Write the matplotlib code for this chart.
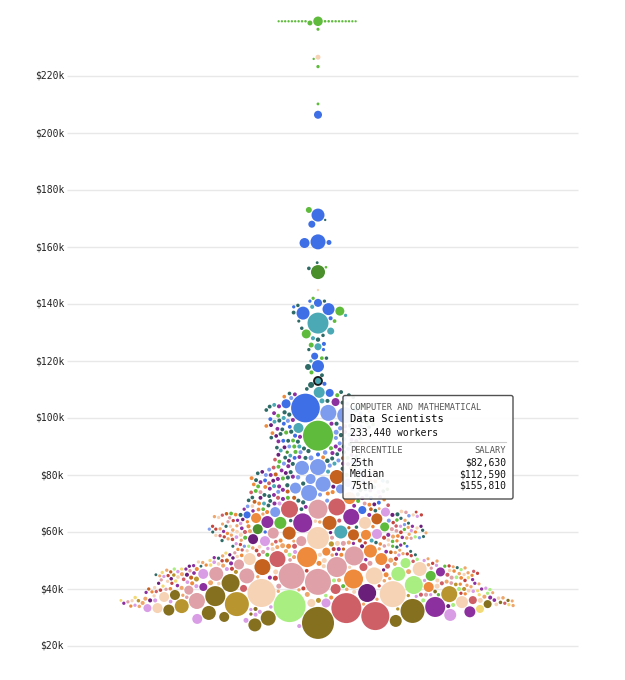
import numpy as np
import matplotlib
matplotlib.use("Agg")
import matplotlib.pyplot as plt
from matplotlib.patches import FancyBboxPatch

# (median salary $k, workers in thousands) for each occupation, one list per group
health_pract = [
    (239.2, 20), (239.2, 22), (239.2, 18), (239.2, 20), (239.2, 24), (239.2, 20), (239.2, 19),
    (239.2, 22), (239.2, 20), (239.2, 25), (239.2, 20), (239.2, 18), (239.2, 21), (239.2, 20),
    (239.2, 23), (239.2, 20), (239.2, 19), (239.2, 22), (239.2, 20), (239.2, 330),
    (238.6, 90), (236.4, 35), (226.0, 20), (223.3, 40), (210.2, 30), (173.0, 130), (152.9, 25),
    (137.5, 295), (129.5, 295), (125.6, 90), (93.8, 3280), (63.2, 525), (61.8, 295), (44.6, 365),
    (142, 40), (134, 50), (121, 50), (116, 60), (108, 60), (104, 55), (99, 60), (96, 55),
    (90, 60), (86, 55), (80, 60), (76, 55), (72, 60), (68, 50), (58, 60), (55, 40), (52, 60),
    (48, 40), (41, 60), (38, 40), (100.8, 55), (97.7, 50), (94.9, 60), (92.1, 55), (88.1, 60),
    (84.7, 55), (78.8, 60), (74.4, 55), (70.9, 60), (66.5, 50), (64.2, 45), (60.9, 40), (56.7, 45),
    (98.3, 55), (89.4, 60), (82.9, 55), (77.4, 60),
]

management = [
    (206.4, 235), (171.2, 615), (168.0, 180), (161.8, 820), (161.6, 90), (161.4, 365),
    (140.4, 235), (138.2, 525), (136.8, 615), (121.7, 180), (118.2, 525), (108.8, 235),
    (105.0, 295), (103.5, 3000), (67.7, 235), (66.0, 180), (141, 40), (139, 40), (135, 60),
    (126, 60), (124, 40), (112, 60), (107, 60), (98, 55), (92, 55), (86, 55), (80, 60), (72, 55),
    (60, 40), (55, 30), (101.6, 55), (96.9, 55), (93.8, 60), (89.9, 55), (84.4, 60), (78.1, 55),
    (75.3, 60), (70.3, 55), (99.6, 55), (87.2, 60), (81.7, 55),
]

computer = [
    (133.3, 1600), (130.5, 180), (125.0, 180), (113.0, 233.44), (109.0, 440), (103.2, 160),
    (96.5, 365), (60.0, 615), (139, 60), (136, 40), (128, 60), (120, 40), (106, 90), (100, 60),
    (95, 55), (90, 60), (84, 60), (78, 55), (70, 55), (57, 60), (104.6, 55), (98.7, 55),
    (92.6, 60), (86.8, 55), (81.2, 60), (94.1, 60), (88.6, 55), (76.1, 60),
]

engineering = [
    (169.5, 20), (154.5, 30), (152.5, 50), (141, 40), (139.5, 45), (137, 55), (134, 35),
    (131.5, 45), (129, 45), (127.5, 70), (124, 40), (121, 45), (117.9, 130), (115, 55),
    (111.6, 130), (110.2, 50), (108, 55), (106, 60), (104, 55), (102, 65), (99.5, 55), (98, 60),
    (96, 55), (94, 65), (92, 55), (90, 60), (88, 55), (86, 60), (85, 75), (83, 55), (81, 60),
    (79, 55), (77, 65), (75, 60), (73, 55), (71, 60), (68, 55), (66, 60), (64, 45), (62, 40),
    (60, 35), (57, 40), (55, 35), (52, 35), (48, 30), (45, 30), (109.1, 55), (107.3, 50),
    (105.4, 60), (103.6, 55), (102.8, 50), (101.2, 65), (100.4, 55), (108.6, 50), (99.1, 60),
    (97.3, 55), (96.8, 50), (95.2, 65), (94.4, 55), (93.1, 50), (91.7, 60), (90.8, 55),
    (89.6, 50), (88.4, 65), (87.3, 55), (86.6, 50), (85.8, 60), (84.1, 55), (83.4, 50),
    (82.2, 65), (81.5, 55), (80.3, 50), (79.1, 60), (78.2, 55), (77.6, 50), (76.4, 65),
    (75.7, 55), (74.3, 50), (73.2, 60), (72.6, 55), (71.1, 50), (70.4, 65), (69.3, 55),
    (67.5, 50), (66.2, 60), (64.8, 40), (63.1, 35), (61.7, 45), (60.6, 40), (58.4, 35),
    (56.3, 45), (54.7, 40), (53.2, 35), (50.8, 40), (47.5, 35), (98.9, 55), (95.6, 60),
    (92.9, 50), (89.3, 60), (86.1, 55), (83.9, 60), (80.6, 50), (78.7, 60), (76.9, 55),
    (74.7, 60), (72.1, 50), (70.9, 55),
]

legal = [(151.2, 715), (61.0, 365), (88, 40), (75, 45), (56, 30)]

business = [
    (101.0, 935), (101.8, 935), (82.8, 935), (82.5, 715), (76.8, 820), (73.7, 935), (75.4, 440),
    (78.6, 365), (77.2, 235), (75.1, 295), (67.0, 365), (105, 55), (99, 60), (97, 55), (93, 60),
    (90, 55), (88, 60), (86, 90), (84, 60), (80, 55), (71, 60), (69, 50), (64, 60), (61, 40),
    (58, 40), (55, 40), (107, 60), (95, 90), (89.2, 55), (87.4, 50), (85.1, 60), (81.9, 55),
    (79.8, 60), (77.9, 55), (74.1, 60), (72.8, 55), (65.7, 45), (62.6, 40), (96.4, 70),
    (91.1, 60), (87.9, 75), (83.3, 65), (79.2, 70), (73.1, 60),
]

health_support = [
    (34.0, 3730), (41.4, 1180), (45.3, 715), (49.1, 365), (34.4, 60), (36, 60), (38.5, 40),
    (43, 60), (47, 40), (52, 60), (55, 40), (40, 60), (58.3, 40), (50.4, 45), (46.8, 40),
    (44.1, 50), (39.8, 40), (37.7, 45),
]

education = [
    (105.6, 235), (65.3, 935), (63.2, 1315), (63.5, 525), (33.7, 1460), (46.0, 295), (32.0, 440),
    (40.7, 235), (98, 60), (94, 55), (90, 60), (87, 55), (84, 60), (80, 55), (76, 60), (73, 55),
    (70, 60), (68, 40), (66, 60), (62, 40), (59, 60), (56, 40), (54, 60), (51, 40), (49, 60),
    (47, 40), (44, 60), (42, 40), (40, 40), (37, 60), (35, 40), (108.3, 55), (104.1, 60),
    (101.7, 55), (99.3, 60), (96.2, 55), (93.4, 60), (91.8, 55), (88.9, 60), (86.3, 55),
    (83.1, 60), (81.6, 55), (79.4, 60), (77.5, 55), (74.8, 60), (72.3, 55), (71.6, 60),
    (69.2, 55), (67.4, 45), (64.1, 40), (61.3, 50), (60.2, 40), (58.1, 45), (55.4, 40),
    (53.1, 50), (52.2, 40), (50.3, 45), (48.2, 40), (45.6, 50), (43.3, 40), (41.2, 45),
    (38.8, 40), (36.1, 50), (97.1, 60), (92.4, 55), (87.7, 60), (84.9, 55), (78.6, 60),
    (75.2, 55), (71.9, 60), (68.8, 55),
]

arts_media = [
    (57.5, 365), (38.6, 1180), (100, 55), (92, 55), (85, 55), (78, 55), (72, 55), (66, 60),
    (62, 40), (55, 60), (52, 40), (48, 40), (45, 60), (42, 40), (36, 60), (34, 60), (97.5, 55),
    (95.1, 60), (89.7, 55), (83.8, 60), (80.7, 55), (75.9, 60), (69.7, 55), (64.4, 45),
    (59.8, 40), (50.9, 45), (46.7, 40), (43.6, 45), (93.7, 50), (87.1, 55), (81.1, 50), (74.6, 55),
]

protective = [
    (79.3, 715), (63.2, 715), (59.6, 615), (64.6, 440), (59.0, 440), (47.7, 935), (72, 60),
    (68, 50), (57, 60), (54, 40), (50, 60), (46, 40), (44, 60), (40, 40), (85.9, 55), (82.4, 60),
    (76.6, 55), (74.2, 60), (70.6, 55), (66.4, 45), (61.5, 40), (52.9, 50), (88.7, 55),
    (80.2, 60), (77.8, 55),
]

food = [
    (28.1, 3730), (32.3, 2100), (37.5, 1460), (42.1, 1180), (28.8, 525), (27.4, 615), (31.6, 715),
    (29.8, 820), (37.9, 365), (32.6, 440), (30.2, 365), (34.7, 235), (33, 60), (36, 40),
    (39.1, 50), (35.3, 45), (31.2, 40),
]

grounds = [
    (34.7, 2100), (38.2, 935), (34.0, 715), (55.8, 100), (36, 90), (40, 60), (43.5, 90), (46, 60),
    (33, 40), (44.9, 45), (41.6, 50), (37.7, 40), (35.9, 45),
]

personal_care = [
    (56.8, 365), (59.3, 365), (67.0, 295), (45.3, 365), (30.9, 525), (29.5, 365), (33.3, 235),
    (35.1, 295), (27, 60), (29, 90), (31, 60), (32, 60), (36, 60), (38, 40), (41, 60), (43, 40),
    (47, 60), (50, 40), (53, 60), (62, 40), (70, 60), (74, 55), (65.5, 40), (63.0, 45),
    (60.5, 40), (58.2, 50), (55.9, 40), (54.2, 45), (51.9, 40), (49.4, 50), (48.3, 40),
    (46.1, 45), (44.4, 40), (42.4, 50), (40.3, 40), (39.2, 45), (37.4, 40), (35.6, 50),
    (34.3, 40), (33.7, 45), (32.8, 40),
]

sales = [
    (68.0, 1315), (51.6, 1315), (47.7, 1460), (44.6, 2460), (42.5, 2460), (35.8, 935),
    (44.6, 820), (45.3, 715), (59.6, 440), (56.8, 365), (48.6, 365), (39.6, 295), (38, 60),
    (41, 90), (44, 60), (49, 90), (53, 60), (56, 90), (58, 60), (61, 60), (65, 40), (70, 55),
    (74, 55), (66.9, 45), (63.6, 40), (60.4, 50), (57.8, 40), (55.1, 45), (52.7, 40), (50.2, 50),
    (47.3, 40), (46.4, 45), (43.2, 40), (42.1, 50), (39.9, 40), (37.1, 45), (35.5, 40),
]

office = [
    (57.9, 1760), (63.2, 525), (38.2, 2460), (38.6, 2860), (47.0, 715), (35.4, 525), (37.2, 365),
    (44.6, 1050), (50.5, 525), (33.3, 365), (35.1, 235), (36, 90), (39, 60), (41, 90), (43, 60),
    (46, 90), (48, 60), (50, 90), (52, 60), (54, 60), (56, 90), (59, 60), (62, 40), (66, 40),
    (226.6, 90), (144.9, 20), (76.2, 55), (72.7, 55), (69.1, 50), (67.2, 50), (65.1, 40),
    (63.8, 45), (61.4, 40), (60.1, 50), (58.8, 40), (57.2, 45), (55.5, 40), (54.8, 50),
    (53.4, 40), (51.4, 45), (49.5, 40), (48.8, 50), (47.6, 40), (46.5, 45), (45.1, 40),
    (44.2, 50), (42.7, 40), (41.9, 45), (40.5, 40), (39.4, 50), (37.6, 40), (36.8, 45),
    (35.9, 40), (34.6, 50),
]

farming = [
    (33.0, 235), (38, 40), (41, 40), (44, 40), (47, 40), (50, 40), (36, 30), (52.6, 40),
    (48.4, 45), (45.8, 40), (42.8, 45), (39.4, 40), (37.0, 45), (34.5, 40),
]

construction = [
    (71.9, 525), (53.3, 615), (51.2, 1460), (43.5, 1315), (64.9, 365), (50.5, 525), (40.7, 365),
    (59.0, 365), (53.1, 235), (78, 55), (74, 60), (70, 55), (67, 60), (62, 60), (60, 40), (57, 60),
    (55, 90), (52, 60), (49, 90), (47, 60), (45, 90), (42, 60), (39, 40), (37, 60), (34, 40),
    (107.5, 50), (102.3, 45), (97.2, 50), (91.3, 45), (78.9, 55), (76.7, 50), (73.5, 60),
    (71.4, 50), (69.6, 55), (67.9, 50), (66.1, 50), (63.6, 40), (61.9, 45), (59.5, 40),
    (58.6, 50), (56.9, 40), (55.8, 45), (53.9, 40), (51.8, 50), (48.4, 40), (46.3, 45),
    (44.8, 40), (43.9, 50), (41.7, 40), (40.1, 45), (38.3, 40), (94.7, 50), (86.2, 55),
    (81.4, 50), (75.8, 55),
]

repair = [
    (68.0, 1050), (68.8, 1050), (50.5, 935), (33.3, 3280), (30.5, 2860), (40.0, 365), (47.7, 235),
    (40.2, 180), (36.1, 235), (72, 60), (64, 60), (60, 60), (55, 90), (52, 60), (48, 90), (45, 60),
    (42, 60), (38, 60), (35, 40), (82.6, 55), (77.1, 55), (73.9, 50), (69.4, 50), (65.9, 40),
    (62.1, 45), (58.7, 40), (56.6, 50), (53.7, 40), (49.7, 45), (46.2, 40), (43.4, 50), (39.1, 40),
    (85.4, 50), (79.6, 55),
]

production = [
    (34.2, 40), (35.1, 60), (36.4, 40), (37.3, 60), (38.1, 90), (39.2, 40), (40.4, 60), (41.3, 40),
    (42.2, 90), (43.1, 60), (44.3, 40), (45.2, 60), (46.1, 90), (47.4, 40), (48.2, 60), (49.3, 40),
    (50.1, 90), (51.2, 60), (52.4, 40), (53.3, 60), (54.1, 40), (55.2, 90), (56.3, 60), (57.1, 40),
    (58.4, 60), (59.2, 40), (60.3, 60), (61.1, 40), (62.2, 40), (64.1, 40), (66.3, 40), (68.2, 30),
    (36.6, 60), (39.7, 40), (42.6, 60), (45.7, 40), (48.8, 60), (51.6, 40), (54.7, 60), (57.6, 40),
    (65.4, 40), (63.5, 45), (62.8, 35), (61.6, 40), (60.7, 45), (59.7, 35), (58.9, 40), (57.9, 45),
    (56.8, 35), (55.7, 40), (54.4, 45), (53.6, 35), (52.8, 40), (51.9, 45), (50.6, 35), (49.8, 40),
    (48.5, 45), (47.8, 35), (46.6, 40), (45.4, 45), (44.6, 35), (43.7, 40), (42.9, 45), (41.8, 35),
    (40.8, 40), (39.9, 45), (38.7, 35), (37.8, 40), (36.9, 45), (35.8, 35), (34.7, 40), (33.9, 45),
]

transport = [
    (38.5, 40), (40.2, 60), (42.0, 40), (43.8, 90), (45.5, 40), (47.1, 60), (49.0, 40), (50.6, 60),
    (52.3, 40), (54.0, 60), (56.2, 40), (58.0, 60), (61.0, 40), (64.0, 40), (67.0, 30), (66.0, 40),
    (63.3, 45), (62.0, 40), (59.9, 50), (58.3, 40), (57.4, 45), (55.6, 40), (53.5, 50), (51.7, 40),
    (49.9, 45), (48.1, 40), (46.4, 50), (44.7, 40), (43.0, 45), (41.1, 40), (39.6, 45),
]

groups = [
    (health_pract, "#5fbb3c"), (management, "#3f6fe6"), (computer, "#4aa9b4"),
    (engineering, "#2e6b67"), (legal, "#4a8f2c"), (business, "#7e9cee"),
    (health_support, "#a8ee80"), (education, "#8d309f"), (arts_media, "#6a1f7b"),
    (protective, "#c5621f"), (food, "#85701f"), (grounds, "#b8952e"),
    (personal_care, "#d99de6"), (sales, "#dfa0a7"), (office, "#f6d3b5"),
    (farming, "#f3da78"), (construction, "#ee8a3c"), (repair, "#cf5f67"),
    (production, "#efa66b"), (transport, "#c4453d"),
]

y_ticks = [20, 40, 60, 80, 100, 120, 140, 160, 180, 200, 220]

W, H = 625, 680
PX_PER_K = 2.85
Y_LO = 20 - 34 / PX_PER_K
R_SCALE = 0.262   # px per sqrt(thousand workers)
CX = 318.0
PAD = 1.0

sal = np.array([s for g, c in groups for s, w in g], float)
wrk = np.array([w for g, c in groups for s, w in g], float)
cols = np.array([c for g, c in groups for s, w in g])
r = R_SCALE * np.sqrt(wrk)
ty = (sal - Y_LO) * PX_PER_K


def swarm(ty, r):
    # greedy beeswarm: biggest first, each as close to the centre as it fits
    n = len(ty)
    x = np.full(n, np.nan)
    mix = (np.arange(n) * 0.6180339887) % 1.0
    done = []
    for i in np.lexsort((mix, -r)):
        if done:
            p = np.array(done)
            dy = ty[p] - ty[i]
            reach = r[p] + r[i] + PAD
            near = np.abs(dy) < reach
            p, dy, reach = p[near], dy[near], reach[near]
        if not done or len(p) == 0:
            x[i] = CX
            done.append(i)
            continue
        off = np.sqrt(reach ** 2 - dy ** 2)
        cand = np.concatenate([[CX], x[p] - off, x[p] + off])
        cand = cand[np.argsort(np.abs(cand - CX), kind="stable")]
        ddx = cand[:, None] - x[p][None, :]
        ok = (ddx ** 2 + dy[None, :] ** 2 >= reach[None, :] ** 2 - 1e-6).all(1)
        x[i] = cand[np.argmax(ok)]
        done.append(i)
    return x


x = swarm(ty, r)

fig = plt.figure(figsize=(W / 100, H / 100), dpi=100)
ax = fig.add_axes([0, 0, 1, 1])
ax.set_xlim(0, W)
ax.set_ylim(Y_LO, Y_LO + H / PX_PER_K)
ax.set_axis_off()

ax.hlines(y_ticks, 67, 578, color="#e8e8e8", lw=1.0, zorder=0)
for v in y_ticks:
    ax.text(64, v, "$%dk" % v, ha="right", va="center", fontsize=7,
            family="DejaVu Sans Mono", color="#222222")

order = np.argsort(-r)
sizes = (2 * r * 72 / 100) ** 2
ax.scatter(x[order], sal[order], s=sizes[order], c=cols[order], linewidths=0, zorder=2)

# hovered bubble (Data Scientists)
ds = np.where((sal == 113.0) & (cols == "#4aa9b4"))[0][0]
ax.scatter([x[ds]], [sal[ds]], s=sizes[ds], facecolor="none", edgecolor="#1a1a1a",
           linewidths=1.3, zorder=3)

# tooltip in pixel coordinates
ov_ax = fig.add_axes([0, 0, 1, 1])
ov_ax.set_xlim(0, W)
ov_ax.set_ylim(H, 0)
ov_ax.set_axis_off()
ov_ax.add_patch(FancyBboxPatch((343, 395.5), 170, 103.5, boxstyle="round,pad=0,rounding_size=2",
                               facecolor="white", edgecolor="#444444", lw=1.0, alpha=0.93, zorder=5))
mono = "DejaVu Sans Mono"
ov_ax.text(350, 407.3, "COMPUTER AND MATHEMATICAL", fontsize=6.35, family=mono,
           color="#555555", va="center", zorder=6)
ov_ax.text(350, 419.5, "Data Scientists", fontsize=7.5, family=mono, color="#000000",
           va="center", zorder=6)
ov_ax.text(350, 432.7, "233,440 workers", fontsize=7, family=mono, color="#111111",
           va="center", zorder=6)
ov_ax.plot([350, 506], [441.7, 441.7], color="#cccccc", lw=0.8, zorder=6)
ov_ax.text(350, 450.7, "PERCENTILE", fontsize=6.3, family=mono, color="#555555",
           va="center", zorder=6)
ov_ax.text(506, 450.7, "SALARY", fontsize=6.3, family=mono, color="#555555",
           va="center", ha="right", zorder=6)
for yy, a, b in [(462.7, "25th", "$82,630"), (474.3, "Median", "$112,590"),
                 (485.7, "75th", "$155,810")]:
    ov_ax.text(350, yy, a, fontsize=7, family=mono, color="#111111", va="center", zorder=6)
    ov_ax.text(506, yy, b, fontsize=7, family=mono, color="#111111", va="center",
               ha="right", zorder=6)

fig.savefig("out.png", dpi=100)
